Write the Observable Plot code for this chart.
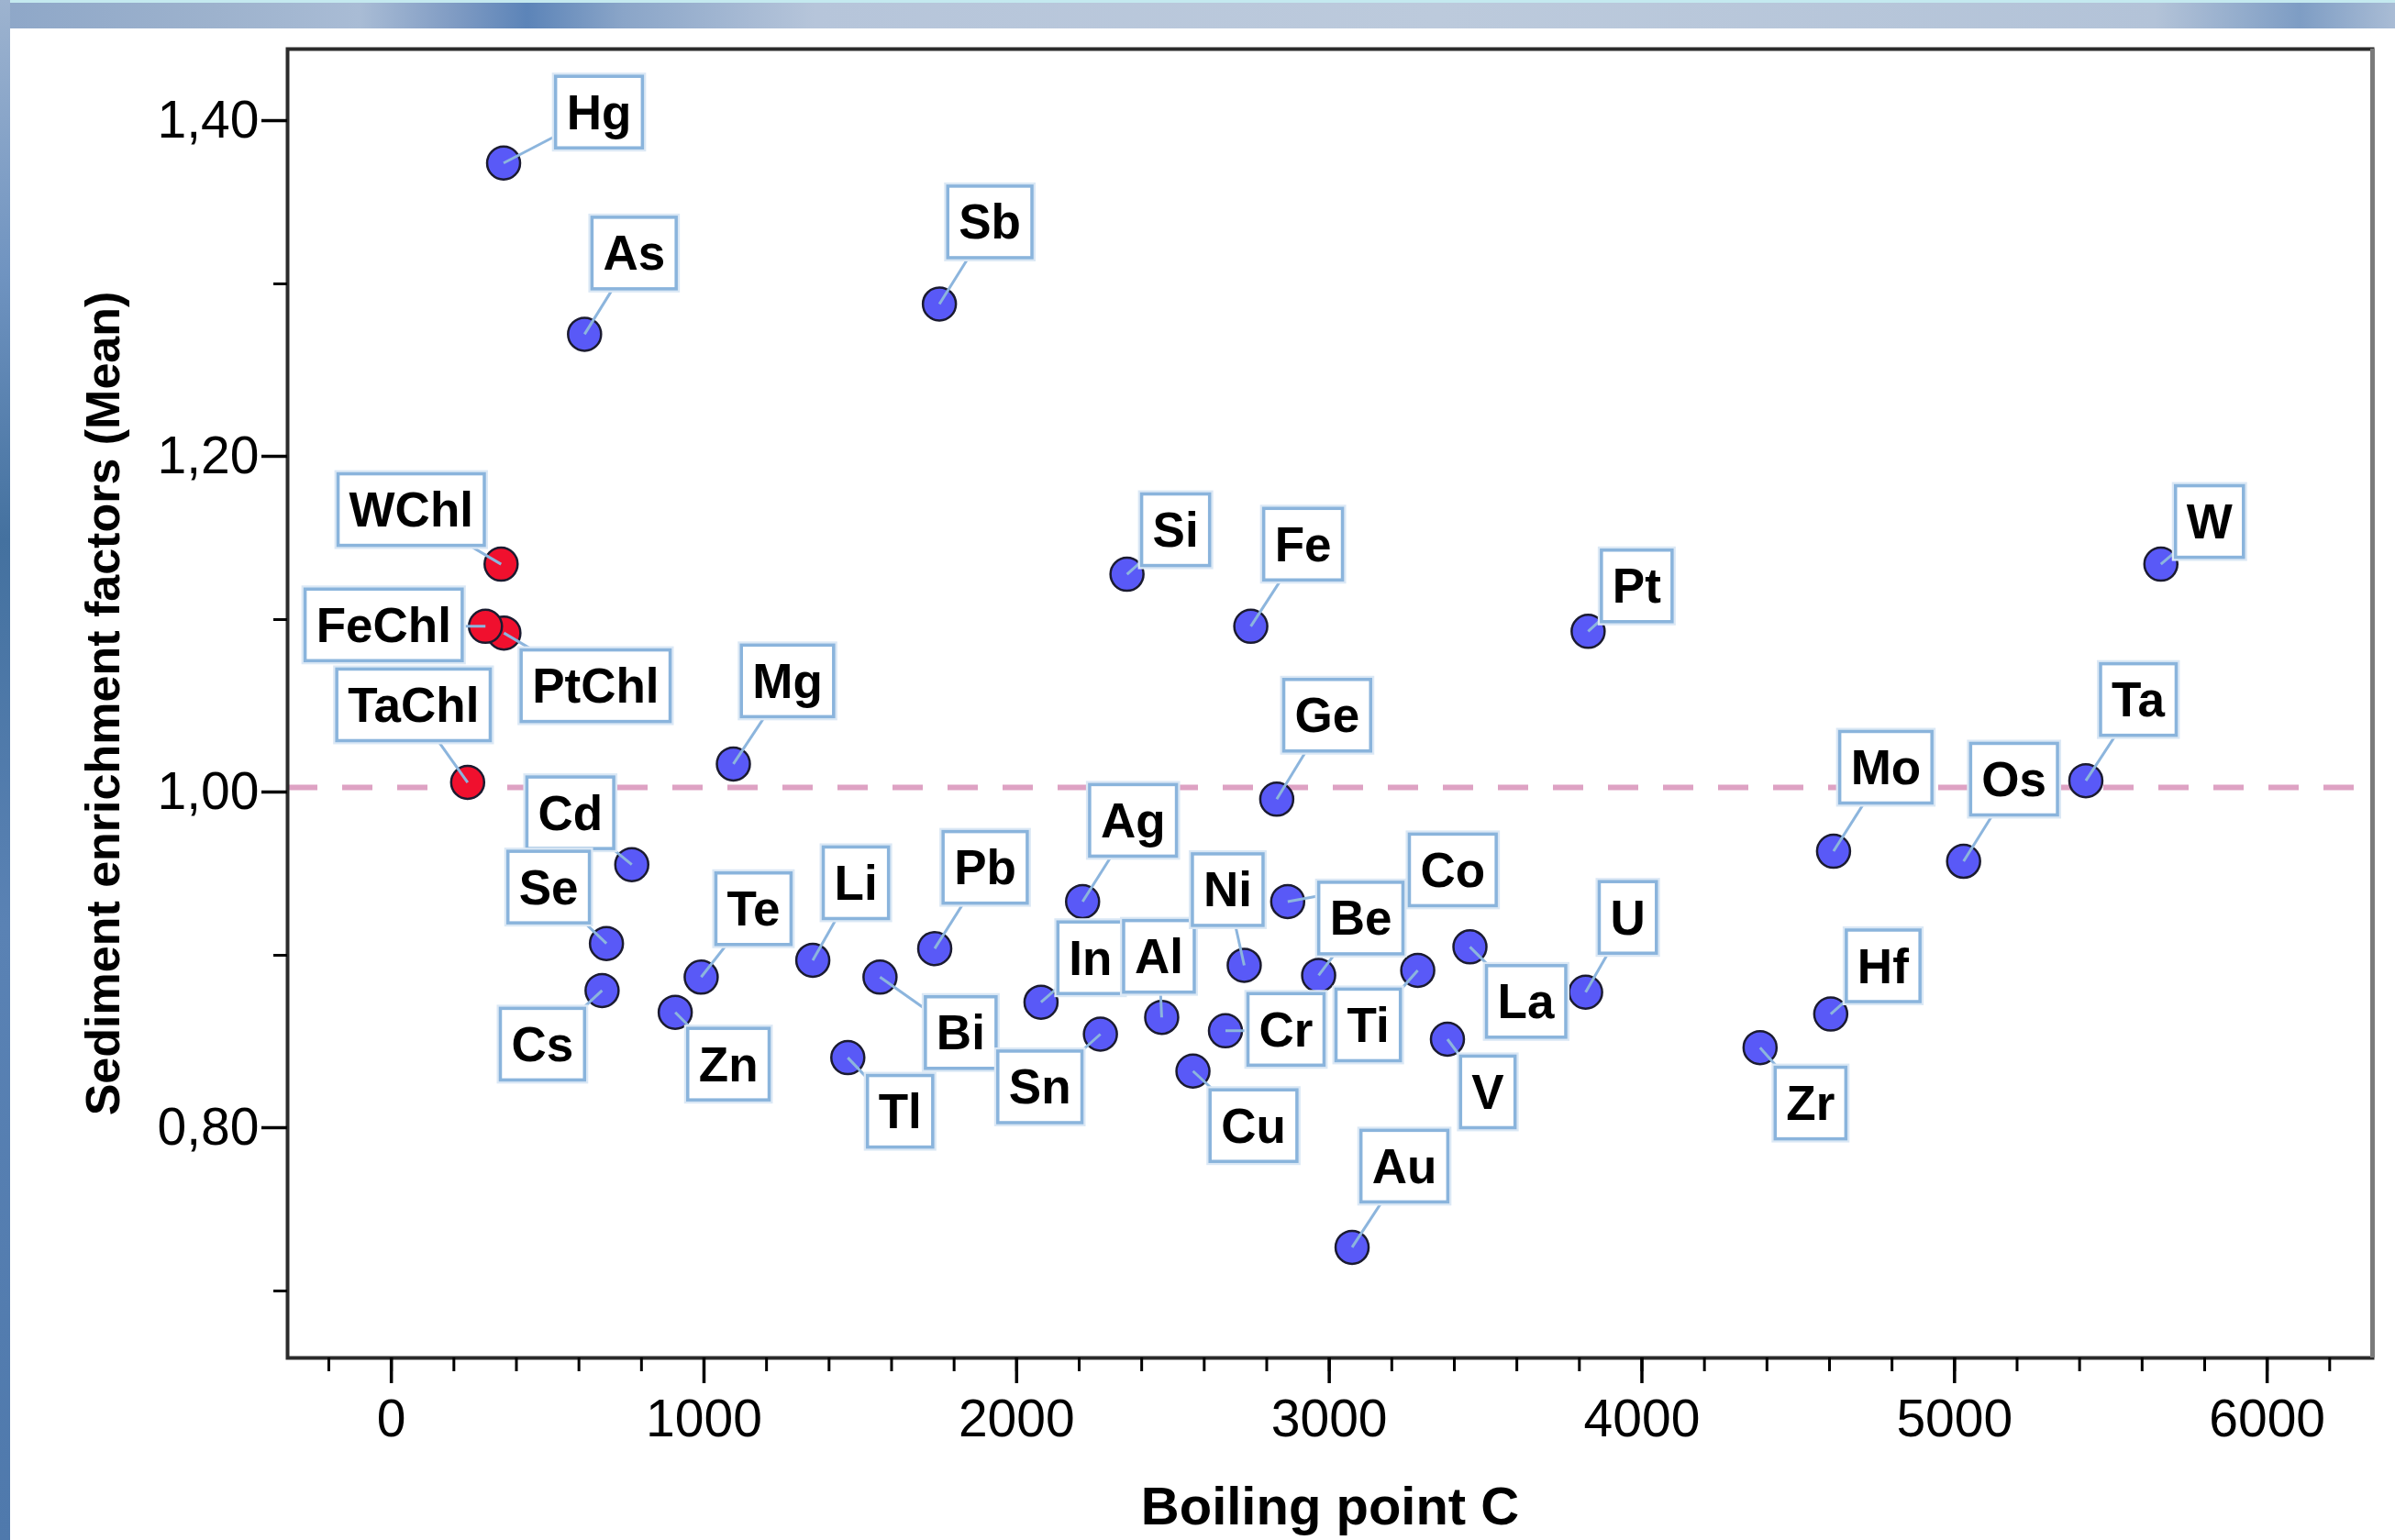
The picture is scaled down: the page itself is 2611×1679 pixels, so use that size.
<!DOCTYPE html>
<html>
<head>
<meta charset="utf-8">
<script src="https://cdn.jsdelivr.net/npm/d3@7"></script>
<script src="https://cdn.jsdelivr.net/npm/@observablehq/plot@0.6"></script>
<style>
html, body { margin: 0; padding: 0; background: #ffffff; }
#page { position: relative; width: 2611px; height: 1679px; overflow: hidden; background: #ffffff; }
#topband { position: absolute; left: 0; top: 0; width: 2611px; height: 31px;
  background: linear-gradient(to right, #8ea7c8 0%, #9db2cd 9%, #a9bcd5 15%, #7f9bc3 19%, #5c84b8 22%, #8aa5c8 26%, #b6c5da 34%, #bccadc 60%, #b3c3d8 90%, #7e9dc4 96%, #a9bcd5 100%); }
#topline { position: absolute; left: 0; top: 0; width: 2611px; height: 3px; background: #c4e9ef; }
#leftband { position: absolute; left: 0; top: 0; width: 11px; height: 1679px;
  background: linear-gradient(to bottom, #9db3cf 0%, #6f93c0 18%, #44719f 35%, #5a82b4 60%, #4f79ac 100%); }
#chart { position: absolute; left: 0; top: 0; }
</style>
</head>
<body>
<div id="page">
  <div id="topband"></div>
  <div id="topline"></div>
  <div id="leftband"></div>
  <div id="chart"></div>
</div>
<script>
// ---- data ----
const elements = ["Hg","As","Sb","WChl","PtChl","FeChl","TaChl","Mg","Si","Fe","Pt","W","Ge","Ta","Mo","Os",
  "Cd","Se","Cs","Zn","Te","Li","Tl","Bi","Pb","Ag","In","Sn","Al","Cu","Cr","Ni","Co","Be","Ti","La","V","U","Au","Zr","Hf"];
const boilingPoint = [359, 618, 1753, 351, 360, 301, 244, 1094, 2353, 2749, 3828, 5660, 2832, 5420, 4613, 5029,
  769, 688, 674, 908, 991, 1348, 1460, 1563, 1738, 2211, 2078, 2268, 2464, 2564, 2668, 2728, 2867, 2966, 3283, 3450, 3378, 3820, 3073, 4378, 4604];
const enrichment = [1.372, 1.270, 1.288, 1.133, 1.092, 1.096, 1.003, 1.014, 1.127, 1.096, 1.093, 1.133, 0.993, 1.004, 0.962, 0.956,
  0.954, 0.907, 0.879, 0.866, 0.887, 0.897, 0.839, 0.887, 0.904, 0.932, 0.872, 0.853, 0.863, 0.831, 0.855, 0.894, 0.932, 0.888, 0.891, 0.905, 0.850, 0.878, 0.726, 0.845, 0.865];
const compoundType = ["element","element","element","chloride","chloride","chloride","chloride","element","element","element","element","element","element","element","element","element",
  "element","element","element","element","element","element","element","element","element","element","element","element","element","element","element","element","element","element","element","element","element","element","element","element","element"];
const xTickValues = [0, 1000, 2000, 3000, 4000, 5000, 6000];
const yTickValues = [0.80, 1.00, 1.20, 1.40];
const referenceLevel = [1.00];
const xTitle = "Boiling point C";
const yTitle = "Sediment enrichment factors (Mean)";

// ---- layout (label placement offsets in pixels, not data) ----
const labelDx = [104, 54, 55, -98, 100, -111, -59, 59, 53, 57, 53, 53, 55, 57, 57, 55,
  -67, -63, -65, 58, 57, 47, 57, 88, 55, 55, 54, -66, -3, 66, 66, -18, 180, 46, -54, 61, 44, 46, 57, 55, 57];
const labelDy = [-54, -87, -88, -58, 59, 0, -83, -89, -47, -88, -48, -45, -90, -87, -90, -88,
  -55, -60, 60, 58, -73, -83, 60, 62, -87, -87, -47, 59, -65, 61, 0, -81, -33, -61, 61, 61, 59, -80, -87, 62, -51];

const W = 2611, H = 1679;
const mL = 313, mR = 25, mT = 53, mB = 199;
const xDomain = [-332, 6337];
const yDomain = [0.6601, 1.4399];
const kx = (W - mL - mR) / (xDomain[1] - xDomain[0]);
const ky = (H - mT - mB) / (yDomain[1] - yDomain[0]);

const rows = elements.map((name, i) => ({
  name,
  x: boilingPoint[i],
  y: enrichment[i],
  type: compoundType[i],
  lx: boilingPoint[i] + labelDx[i] / kx,
  ly: enrichment[i] - labelDy[i] / ky
}));

const minorX = d3.range(-200, 6201, 200);
const minorY = [0.70, 0.90, 1.10, 1.30];
const fmtY = d => d.toFixed(2).replace(".", ",");

const svg = Plot.plot({
  width: W,
  height: H,
  marginLeft: mL,
  marginRight: mR,
  marginTop: mT,
  marginBottom: mB,
  style: { fontFamily: "'Liberation Sans', Arial, sans-serif", background: "transparent", overflow: "visible", color: "black" },
  x: { domain: xDomain, nice: false },
  y: { domain: yDomain, nice: false },
  marks: [
    Plot.ruleY(referenceLevel, { stroke: "#dea2c3", strokeWidth: 6, strokeDasharray: "33,27" }),
    Plot.dot(rows, { x: "x", y: "y", r: 18,
      fill: d => d.type === "chloride" ? "#f0102e" : "#5959f7",
      stroke: "#1b1b30", strokeWidth: 2.5 }),
    Plot.link(rows, { x1: "x", y1: "y", x2: "lx", y2: "ly", stroke: "#8cb5dd", strokeWidth: 3 }),
    Plot.text(rows, { x: "lx", y: "ly", text: "name", fontSize: 53, fontWeight: "bold", fill: "black" }),
    Plot.frame({ stroke: "#2b2b2b", strokeWidth: 4 }),
    Plot.ruleX([xDomain[1]], { stroke: "#7a7a7a", strokeWidth: 5 }),
    Plot.axisX(minorX, { tickSize: 15, strokeWidth: 3, tickFormat: () => "", label: null }),
    Plot.axisX(xTickValues, { tickSize: 28, strokeWidth: 3.5, tickPadding: 17, fontSize: 57, tickFormat: d => String(d), label: null }),
    Plot.axisY(minorY, { tickSize: 15, strokeWidth: 3, tickFormat: () => "", label: null }),
    Plot.axisY(yTickValues, { tickSize: 28, strokeWidth: 3.5, tickPadding: 3, fontSize: 57, dy: 5, tickFormat: fmtY, label: null }),
    Plot.text([xTitle], { text: d => d, frameAnchor: "bottom", dy: 181, fontSize: 58, fontWeight: "bold", fill: "black" }),
    Plot.text([yTitle], { text: d => d,
      x: () => xDomain[0] - 200 / kx,
      y: () => (yDomain[0] + yDomain[1]) / 2,
      rotate: -90, fontSize: 52, fontWeight: "bold", fill: "black" })
  ]
});

document.getElementById("chart").appendChild(svg);

// boxes behind the element labels, sized to the rendered text
const ns = "http://www.w3.org/2000/svg";
const nameSet = new Set(elements);
let labelG = svg.querySelector('g[font-size="53"]');
if (!labelG) {
  const cands = Array.from(svg.querySelectorAll("g")).filter(g => {
    const ts = g.querySelectorAll(":scope > text");
    return ts.length === elements.length && Array.from(ts).every(t => nameSet.has(t.textContent));
  });
  labelG = cands[0];
}
if (labelG) {
  const sr = svg.getBoundingClientRect();
  const boxG = document.createElementNS(ns, "g");
  labelG.parentNode.insertBefore(boxG, labelG);
  labelG.querySelectorAll("text").forEach(t => {
    const b = t.getBoundingClientRect();
    const cx = b.x - sr.x + b.width / 2;
    const cy = b.y - sr.y + b.height / 2;
    const w = b.width + 24, h = 78;
    const halo = document.createElementNS(ns, "rect");
    halo.setAttribute("x", cx - w / 2 - 2);
    halo.setAttribute("y", cy - h / 2 - 2);
    halo.setAttribute("width", w + 4);
    halo.setAttribute("height", h + 4);
    halo.setAttribute("fill", "none");
    halo.setAttribute("stroke", "#dbe8f5");
    halo.setAttribute("stroke-width", 4);
    boxG.appendChild(halo);
    const r = document.createElementNS(ns, "rect");
    r.setAttribute("x", cx - w / 2);
    r.setAttribute("y", cy - h / 2);
    r.setAttribute("width", w);
    r.setAttribute("height", h);
    r.setAttribute("fill", "white");
    r.setAttribute("stroke", "#8ab4dc");
    r.setAttribute("stroke-width", 3.5);
    boxG.appendChild(r);
  });
}
</script>
</body>
</html>
